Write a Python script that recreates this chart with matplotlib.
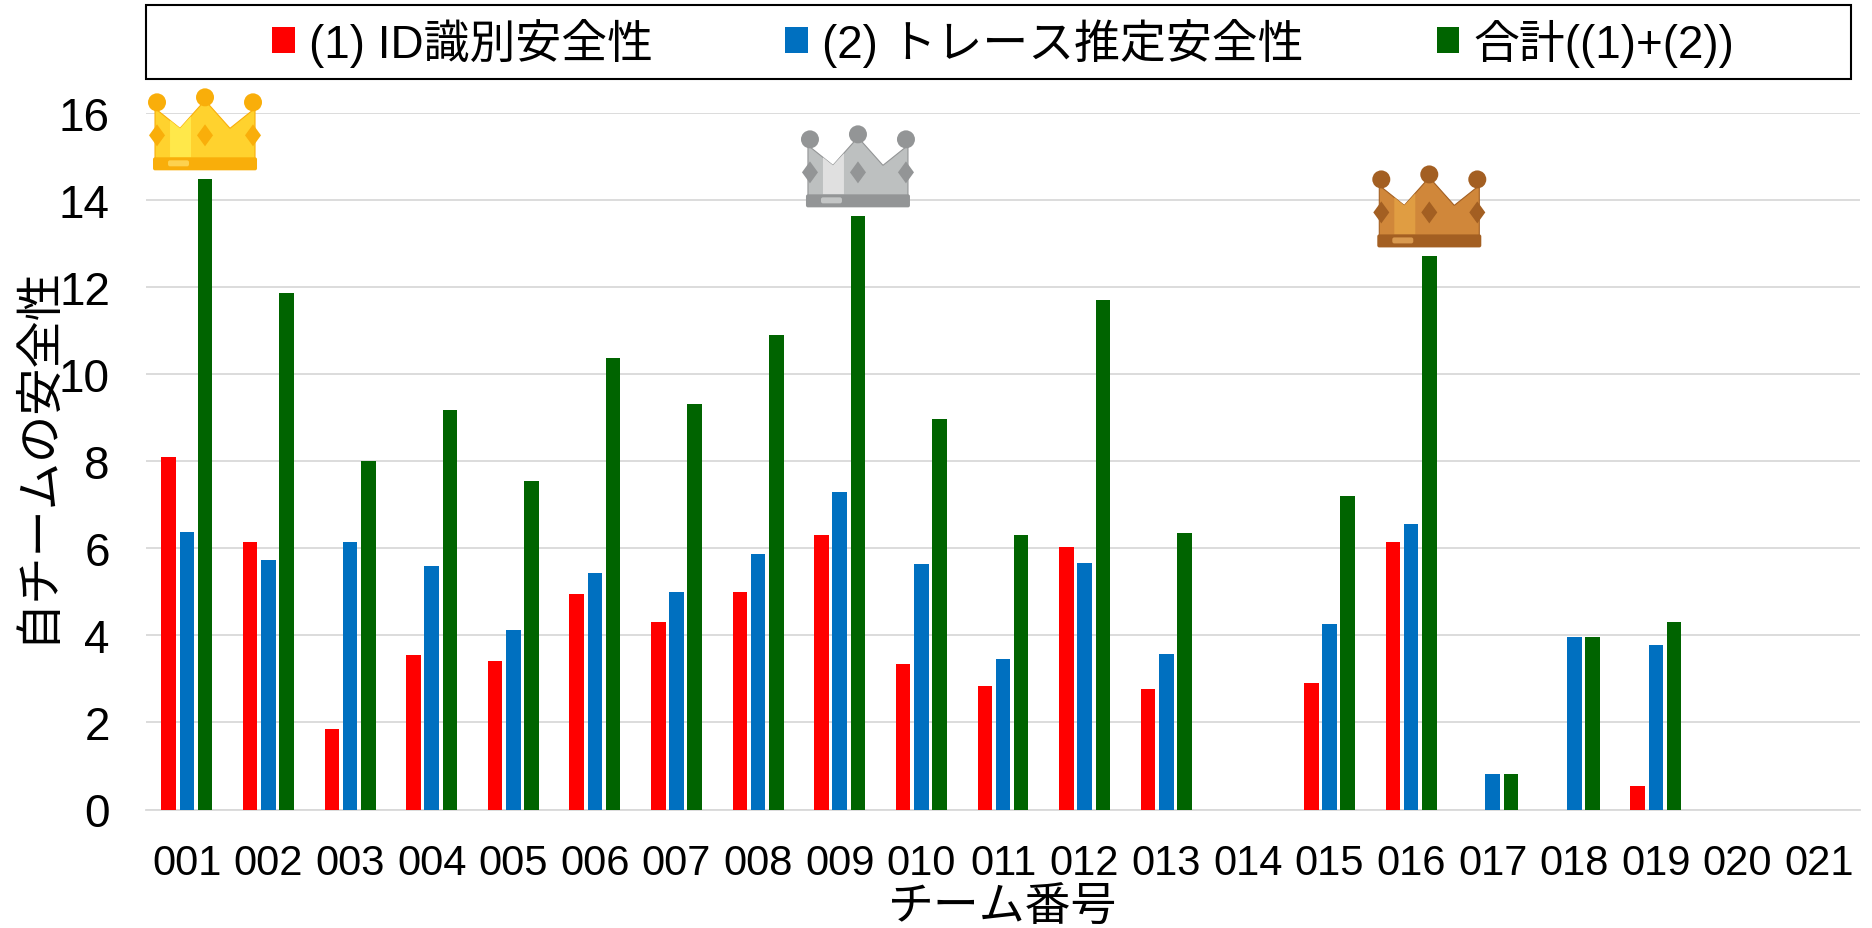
import matplotlib
matplotlib.use('Agg')
import matplotlib.pyplot as plt
from matplotlib.patches import Polygon, Circle, Rectangle, FancyBboxPatch
from matplotlib.transforms import Affine2D, ScaledTranslation
import numpy as np

plt.rcParams['font.family'] = ['Liberation Sans', 'Noto Sans CJK JP']

teams = ['001', '002', '003', '004', '005', '006', '007', '008', '009', '010', '011',
         '012', '013', '014', '015', '016', '017', '018', '019', '020', '021']
id_safety = [8.1, 6.15, 1.85, 3.55, 3.4, 4.95, 4.3, 5.0, 6.3, 3.33, 2.83,
             6.03, 2.77, 0, 2.9, 6.15, 0, 0, 0.53, 0, 0]
trace_safety = [6.37, 5.72, 6.15, 5.6, 4.12, 5.42, 5.0, 5.87, 7.3, 5.63, 3.45,
                5.67, 3.57, 0, 4.27, 6.55, 0.82, 3.96, 3.77, 0, 0]
total_safety = [14.47, 11.87, 8.0, 9.17, 7.55, 10.37, 9.3, 10.9, 13.62, 8.97, 6.3,
                11.7, 6.35, 0, 7.2, 12.7, 0.82, 3.96, 4.3, 0, 0]
yticks = [0, 2, 4, 6, 8, 10, 12, 14, 16]
series_names = ['(1) ID識別安全性', '(2) トレース推定安全性', '合計((1)+(2))']

W, H = 1872, 929
fig = plt.figure(figsize=(W / 100, H / 100), dpi=100)
ax = fig.add_axes([146 / W, 1 - 810.5 / H, (1860 - 146) / W, (810.5 - 113.7) / H])

x = np.arange(len(teams))
step = 0.223
width = 0.178
ax.bar(x - step, id_safety, width, color='#FF0000', label=series_names[0], zorder=3)
ax.bar(x, trace_safety, width, color='#0070C0', label=series_names[1], zorder=3)
ax.bar(x + step, total_safety, width, color='#006400', label=series_names[2], zorder=3)

ax.set_xlim(-0.5, len(teams) - 0.5)
ax.set_ylim(0, 16)
ax.set_yticks(yticks)
ax.set_xticks(x, teams)
ax.grid(axis='y', color='#D9D9D9', lw=1.3, zorder=0)
ax.set_axisbelow(True)
for s in ['top', 'right', 'left']:
    ax.spines[s].set_visible(False)
ax.spines['bottom'].set_color('#D9D9D9')
ax.spines['bottom'].set_linewidth(1.3)
ax.tick_params(axis='y', length=0, labelsize=33, pad=26)
ax.tick_params(axis='x', length=0, labelsize=30, pad=24)

fig.text(37 / W, 1 - 454 / H, '自チームの安全性', rotation=90, fontsize=34, ha='center', va='center')
fig.text(1003 / W, 1 - 909 / H, 'チーム番号', fontsize=33, ha='center', va='center')

# legend frame + legend
fig.add_artist(Rectangle((146 / W, 1 - 80 / H), (1851 - 146) / W, 74 / H, transform=fig.transFigure,
                         fill=False, ec='black', lw=1.5))
fig.legend(loc='center', bbox_to_anchor=(1003 / W, 1 - 43 / H), ncol=3, frameon=False, fontsize=33,
           handlelength=0.5, handleheight=0.5, handletextpad=0.3, columnspacing=2.9)


def draw_crown(cx, top, body, light, dark, band):
    # shapes are in pixels, origin at middle of the crown base
    tr = Affine2D().translate(0, 9) + ScaledTranslation(cx, top, ax.transData)

    def add(p):
        p.set_transform(tr)
        p.set_clip_on(False)
        p.set_zorder(5)
        ax.add_artist(p)
    add(Polygon([(-50, 10), (-50, 62), (-25, 42), (0, 70), (25, 42), (50, 62), (50, 10)], fc=body, ec=dark, lw=0.8))
    add(Polygon([(-35, 13), (-35, 50), (-25, 42), (-14, 54), (-14, 13)], fc=light, ec='none'))
    add(FancyBboxPatch((-50, 2), 100, 9, boxstyle='round,pad=2', fc=dark, ec='none'))
    add(FancyBboxPatch((-35, 6), 17, 2, boxstyle='round,pad=2', fc=band, ec='none'))
    for bx, by in [(-48, 68), (0, 73), (48, 68)]:
        add(Circle((bx, by), 9, fc=dark, ec='none'))
    for bx in [-48, 0, 48]:
        add(Polygon([(bx - 8, 35), (bx, 46), (bx + 8, 35), (bx, 24)], fc=dark, ec='none'))


crown_colors = [('#FFD22E', '#FFE84A', '#F9AE0A', '#FDD24F'),
                ('#BDC0C0', '#E0E0E0', '#939596', '#C4C6C6'),
                ('#D0873A', '#E09D42', '#A35F22', '#D99A50')]
top3 = np.argsort(total_safety)[::-1][:3]
for i, cols in zip(top3, crown_colors):
    draw_crown(i + step, total_safety[i], *cols)

plt.savefig('out.png', dpi=100)
